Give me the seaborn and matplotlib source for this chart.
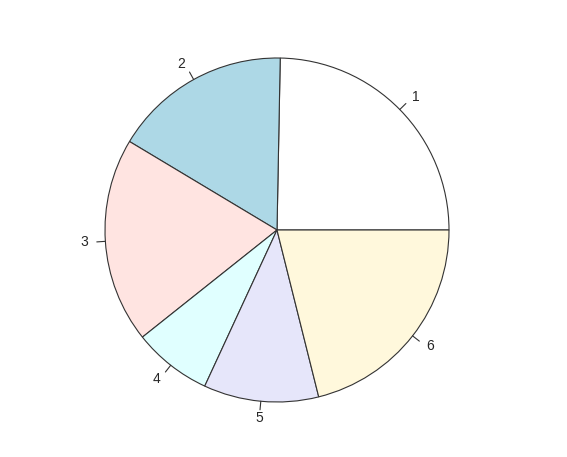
import numpy as np
import matplotlib
matplotlib.use("Agg")
import matplotlib.pyplot as plt
import seaborn as sns

labels = ["1", "2", "3", "4", "5", "6"]
values = [24.7, 16.7, 19.3, 7.4, 10.8, 21.1]
colors = ["white", "lightblue", "mistyrose", "lightcyan", "lavender", "cornsilk"]

sns.set_style("white")
plt.rcParams['font.family'] = ['Liberation Sans', 'DejaVu Sans']

fig = plt.figure(figsize=(5.67, 4.57), dpi=100)
ax = fig.add_axes([0, 0, 1, 1])
cx, cy, r = 277, 227, 172

ax.pie(values, colors=colors, startangle=0, counterclock=True,
       center=(cx, cy), radius=r,
       wedgeprops=dict(edgecolor="#333333", linewidth=0.8))

# R-style labels: short tick then text at mid-angle
cum = np.cumsum([0] + values)
total = cum[-1]
for i, lab in enumerate(labels):
    mid = np.deg2rad((cum[i] + cum[i + 1]) / 2 / total * 360)
    c, s = np.cos(mid), np.sin(mid)
    ax.plot([cx + r * c, cx + 1.05 * r * c], [cy + r * s, cy + 1.05 * r * s],
            color="#333333", lw=0.8)
    ax.text(cx + 1.1 * r * c, cy + 1.1 * r * s, lab, fontsize=10,
            ha="left" if c > 0.1 else ("right" if c < -0.1 else "center"),
            va="center")

ax.set_xlim(0, 567)
ax.set_ylim(0, 457)
ax.set_aspect("equal")
ax.axis("off")
fig.savefig("out.png", dpi=100)
